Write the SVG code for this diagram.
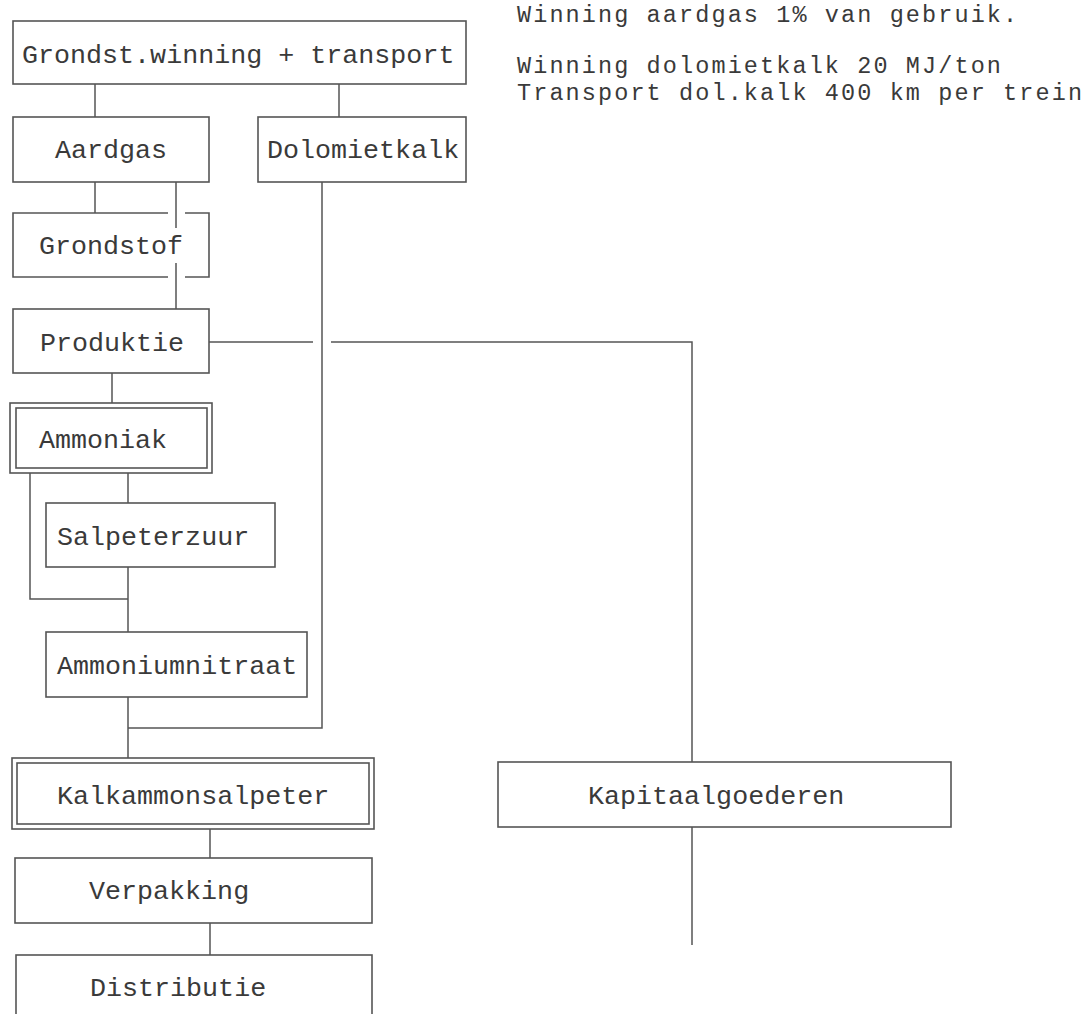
<svg xmlns="http://www.w3.org/2000/svg" width="1091" height="1014" viewBox="0 0 1091 1014">
  <style>
    .box { fill: none; stroke: #555; stroke-width: 1.6; }
    .wire { fill: none; stroke: #555; stroke-width: 1.5; }
    .lbl { font-family: "Liberation Mono", "DejaVu Sans Mono", monospace; font-size: 26.7px; fill: #3a3a3a; }
    .note { font-family: "Liberation Mono", "DejaVu Sans Mono", monospace; font-size: 23.5px; letter-spacing: 2.1px; fill: #3a3a3a; }
  </style>
  <rect width="1091" height="1014" fill="#ffffff"/>

  <!-- connectors -->
  <g id="connectors" class="wire">
    <path d="M95,84 V117"/>
    <path d="M339,84 V117"/>
    <path d="M95,182 V213"/>
    <path d="M176,182 V228"/>
    <path d="M176,263 V309"/>
    <path d="M322,182 V728 H128"/>
    <path d="M209,342 H313"/>
    <path d="M331,342 H692 V762"/>
    <path d="M692,827 V945"/>
    <path d="M112,373 V403"/>
    <path d="M30,473 V599 H128"/>
    <path d="M128,473 V503"/>
    <path d="M128,567 V632"/>
    <path d="M128,697 V758"/>
    <path d="M210,829 V858"/>
    <path d="M210,923 V955"/>
  </g>

  <g id="grondst-winning">
    <rect class="box" x="13" y="21" width="453" height="63"/>
    <text class="lbl" x="22" y="63">Grondst.winning + transport</text>
  </g>

  <g id="aardgas">
    <rect class="box" x="13" y="117" width="196" height="65"/>
    <text class="lbl" x="55" y="158">Aardgas</text>
  </g>

  <g id="dolomietkalk">
    <rect class="box" x="258" y="117" width="208" height="65"/>
    <text class="lbl" x="267" y="158">Dolomietkalk</text>
  </g>

  <g id="grondstof">
    <path class="box" d="M168,213 H13 V277 H168 M185,213 H209 V277 H185"/>
    <text class="lbl" x="39" y="254">Grondstof</text>
  </g>

  <g id="produktie">
    <rect class="box" x="13" y="309" width="196" height="64"/>
    <text class="lbl" x="40" y="351">Produktie</text>
  </g>

  <g id="ammoniak">
    <rect class="box" x="10" y="403" width="202" height="70"/>
    <rect class="box" x="16" y="408" width="191" height="60"/>
    <text class="lbl" x="39" y="448">Ammoniak</text>
  </g>

  <g id="salpeterzuur">
    <rect class="box" x="46" y="503" width="229" height="64"/>
    <text class="lbl" x="57" y="545">Salpeterzuur</text>
  </g>

  <g id="ammoniumnitraat">
    <rect class="box" x="46" y="632" width="261" height="65"/>
    <text class="lbl" x="57" y="674">Ammoniumnitraat</text>
  </g>

  <g id="kalkammonsalpeter">
    <rect class="box" x="12" y="758" width="362" height="71"/>
    <rect class="box" x="17" y="763" width="352" height="61"/>
    <text class="lbl" x="57" y="804">Kalkammonsalpeter</text>
  </g>

  <g id="verpakking">
    <rect class="box" x="15" y="858" width="357" height="65"/>
    <text class="lbl" x="89" y="899">Verpakking</text>
  </g>

  <g id="distributie">
    <rect class="box" x="16" y="955" width="356" height="80"/>
    <text class="lbl" x="90" y="996">Distributie</text>
  </g>

  <g id="kapitaalgoederen">
    <rect class="box" x="498" y="762" width="453" height="65"/>
    <text class="lbl" x="588" y="804">Kapitaalgoederen</text>
  </g>

  <!-- side notes -->
  <g id="notes" class="note">
    <text x="517" y="22">Winning aardgas 1% van gebruik.</text>
    <text x="517" y="73">Winning dolomietkalk 20 MJ/ton</text>
    <text x="517" y="100">Transport dol.kalk 400 km per trein</text>
  </g>
</svg>
